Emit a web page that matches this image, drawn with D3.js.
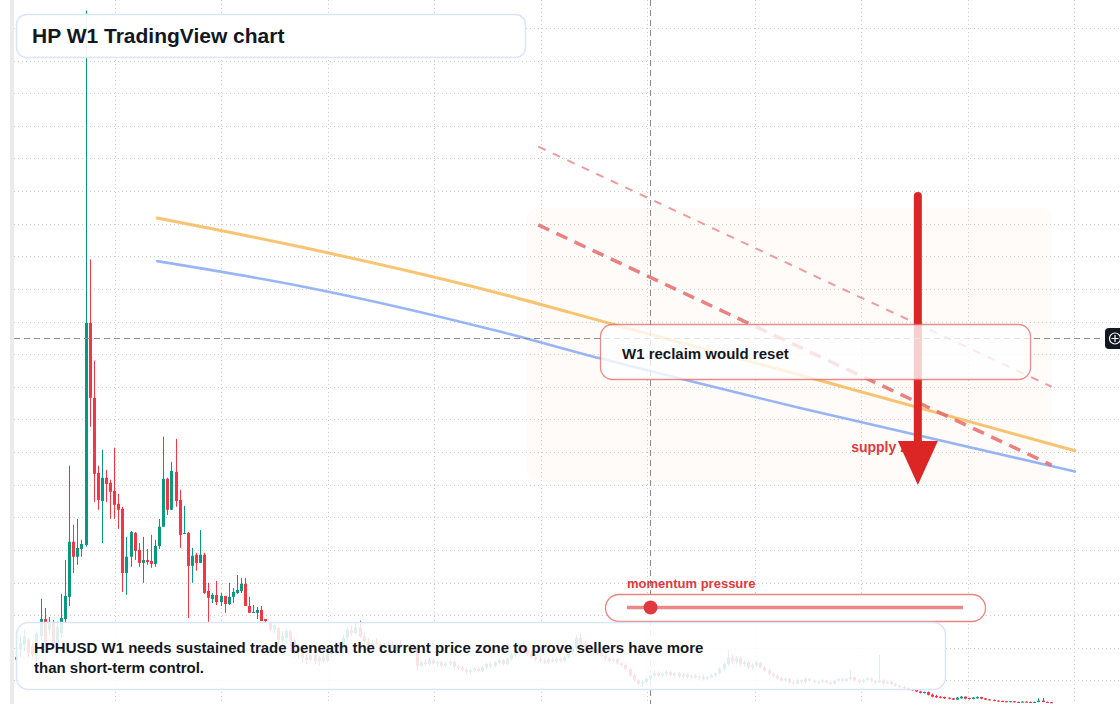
<!DOCTYPE html>
<html>
<head>
<meta charset="utf-8">
<script src="https://cdn.jsdelivr.net/npm/d3@7"></script>
<style>
  html, body { margin: 0; padding: 0; background: #fff; }
  svg { display: block; font-family: "Liberation Sans", Arial, Helvetica, sans-serif; }
</style>
</head>
<body>
<svg id="chart" width="1120" height="704"></svg>
<script>
// ---- data -------------------------------------------------------------
const symbol = 'HPHUSD';
const firstWeek = new Date(2020, 6, 16);

// weekly candles: [open, high, low, close]
const ohlc = [
  [1.72,1.78,1.60,1.63],[1.95,2.40,1.70,2.15],[2.10,2.55,1.90,2.35],[2.25,2.30,1.70,1.85],[2.05,2.15,1.70,1.80],
  [1.75,2.50,1.55,2.45],[2.36,3.50,2.24,2.88],[2.88,3.22,2.00,2.18],[2.55,2.94,2.40,2.72],[2.76,2.85,2.05,2.15],
  [2.15,2.80,2.00,2.65],[2.45,3.65,2.30,2.91],[2.88,4.69,2.79,3.59],[3.56,7.58,3.28,5.25],[5.25,5.77,4.29,4.79],
  [4.79,5.95,4.54,5.06],[5.03,5.31,4.79,5.18],[5.15,21.53,5.10,11.96],[11.96,13.90,8.77,9.66],[9.66,10.80,6.47,7.33],
  [7.36,7.58,6.23,6.53],[6.50,8.07,5.21,7.21],[7.21,7.45,6.47,7.02],[7.06,7.15,5.95,6.78],[6.81,8.13,5.95,6.38],
  [6.41,6.72,5.64,6.23],[6.26,6.32,3.71,4.29],[4.29,5.40,3.62,4.79],[4.79,5.58,4.48,5.55],[5.52,5.55,4.69,4.97],
  [5.00,5.21,4.48,4.60],[4.60,5.40,3.99,4.69],[4.69,5.03,4.54,4.63],[4.66,5.46,4.45,4.57],[4.57,5.31,4.48,5.12],
  [5.12,5.95,5.03,5.71],[5.71,8.47,5.71,7.18],[7.18,7.21,6.07,6.23],[6.23,7.70,6.23,7.42],[7.39,8.40,6.32,6.50],
  [6.53,6.84,5.06,5.46],[5.49,6.35,5.49,5.52],[5.52,5.55,2.91,4.51],[4.51,5.06,3.99,4.82],[4.85,4.91,4.36,4.60],
  [4.60,5.61,4.60,4.85],[4.85,4.91,3.65,3.68],[3.74,3.99,2.79,3.53],[3.50,3.68,3.37,3.62],[3.62,4.05,3.31,3.40],
  [3.40,3.68,3.28,3.59],[3.59,3.59,3.07,3.34],[3.34,3.99,3.31,3.56],[3.56,3.83,3.37,3.71],[3.68,4.23,3.65,3.77],
  [3.74,4.14,3.68,3.96],[3.96,4.14,3.28,3.28],[3.28,3.56,3.07,3.07],[3.07,3.31,3.07,3.10],[3.07,3.25,2.88,3.16],
  [3.16,3.28,2.82,2.82],[2.88,2.88,2.79,2.82],[2.76,2.79,2.50,2.55],[2.55,2.75,2.45,2.70],[2.61,2.65,2.00,2.24],
  [2.24,2.50,1.95,2.36],[2.30,2.60,2.10,2.52],[2.50,2.55,2.05,2.20],[2.20,2.30,1.70,1.85],[1.85,2.10,1.65,1.95],
  [1.95,2.05,1.55,1.70],[1.70,1.80,1.50,1.62],[1.62,1.85,1.55,1.78],[1.78,1.85,1.50,1.58],[1.58,1.75,1.45,1.70],
  [1.70,1.80,1.52,1.60],[1.60,1.90,1.55,1.82],[1.82,2.05,1.70,1.95],[1.95,2.20,1.85,2.10],[2.10,2.15,1.90,2.00],
  [2.00,2.40,1.95,2.30],[2.30,2.65,2.20,2.55],[2.55,2.70,2.35,2.45],[2.45,2.75,2.40,2.62],[2.62,2.83,2.30,2.35],
  [2.35,2.45,2.10,2.20],[2.20,2.30,1.95,2.05],[2.05,2.25,1.95,2.15],[2.15,2.30,2.00,2.10],[2.10,2.20,1.90,2.00],
  [2.00,2.15,1.90,2.08],[2.08,2.20,1.95,2.12],[2.12,2.18,1.95,2.00],[2.00,2.15,1.92,2.10],[2.10,2.22,1.98,2.05],
  [2.05,2.12,1.88,1.95],[1.95,2.10,1.90,2.05],[2.05,2.15,1.95,2.00],[2.00,2.10,1.30,1.45],[1.45,1.62,1.40,1.55],
  [1.55,1.65,1.45,1.50],[1.50,1.68,1.45,1.62],[1.62,1.66,1.48,1.52],[1.52,1.60,1.42,1.56],[1.56,1.60,1.40,1.45],
  [1.45,1.58,1.40,1.52],[1.52,1.62,1.45,1.57],[1.57,1.60,1.38,1.42],[1.42,1.48,1.32,1.38],[1.38,1.45,1.28,1.33],
  [1.33,1.40,1.22,1.27],[1.27,1.35,1.20,1.31],[1.31,1.40,1.25,1.36],[1.36,1.42,1.24,1.29],[1.29,1.45,1.25,1.40],
  [1.40,1.55,1.35,1.50],[1.50,1.58,1.38,1.44],[1.44,1.60,1.40,1.55],[1.55,1.68,1.48,1.62],[1.62,1.66,1.45,1.50],
  [1.50,1.72,1.46,1.66],[1.66,1.85,1.60,1.80],[1.80,1.98,1.72,1.92],[1.92,2.15,1.85,2.05],[2.05,2.20,1.90,1.95],
  [1.95,2.05,1.75,1.82],[1.82,1.90,1.65,1.72],[1.72,1.80,1.58,1.65],[1.65,1.75,1.55,1.60],[1.60,1.68,1.50,1.55],
  [1.55,1.70,1.50,1.64],[1.64,1.72,1.55,1.58],[1.58,1.70,1.52,1.66],[1.66,1.72,1.55,1.60],[1.60,1.78,1.56,1.72],
  [1.72,1.90,1.68,1.85],[1.85,2.05,1.80,1.98],[1.98,2.40,1.90,2.30],[2.30,2.45,2.05,2.12],[2.12,2.20,1.90,1.96],
  [1.96,2.05,1.82,1.88],[1.88,2.02,1.80,1.95],[1.95,2.00,1.78,1.84],[1.84,1.90,1.70,1.75],[1.75,1.82,1.62,1.68],
  [1.68,1.72,1.55,1.60],[1.60,1.70,1.54,1.65],[1.65,1.68,1.48,1.52],[1.52,1.58,1.42,1.47],[1.47,1.52,1.30,1.35],
  [1.35,1.40,1.10,1.15],[1.15,1.20,0.95,1.00],[1.00,1.05,0.85,0.90],[0.90,1.00,0.80,0.95],[0.95,1.10,0.88,1.05],
  [1.05,1.20,1.00,1.15],[1.15,1.30,1.08,1.22],[1.22,1.28,1.10,1.15],[1.15,1.25,1.08,1.20],[1.20,1.32,1.12,1.26],
  [1.26,1.30,1.12,1.16],[1.16,1.25,1.10,1.21],[1.21,1.26,1.08,1.12],[1.12,1.22,1.06,1.18],[1.18,1.22,1.05,1.10],
  [1.10,1.18,1.04,1.14],[1.14,1.20,1.06,1.09],[1.09,1.15,1.02,1.12],[1.12,1.16,1.00,1.05],[1.05,1.14,1.01,1.10],
  [1.10,1.20,1.06,1.16],[1.16,1.25,1.10,1.22],[1.22,1.40,1.18,1.35],[1.35,1.55,1.30,1.50],[1.50,1.93,1.45,1.70],
  [1.70,1.80,1.50,1.58],[1.58,1.75,1.50,1.68],[1.68,1.72,1.45,1.50],[1.50,1.62,1.42,1.55],[1.55,1.60,1.35,1.40],
  [1.40,1.52,1.32,1.46],[1.46,1.60,1.40,1.55],[1.55,1.58,1.35,1.40],[1.40,1.45,1.25,1.30],[1.30,1.36,1.15,1.20],
  [1.20,1.25,1.10,1.14],[1.14,1.18,1.02,1.06],[1.06,1.12,0.96,1.00],[1.00,1.10,0.95,1.05],[1.05,1.08,0.90,0.94],
  [0.94,1.00,0.85,0.90],[0.90,1.05,0.88,1.00],[1.00,1.04,0.90,0.95],[0.95,1.10,0.92,1.05],[1.05,1.08,0.95,0.99],
  [0.99,1.02,0.90,0.94],[0.94,1.00,0.88,0.96],[0.96,1.04,0.92,1.00],[1.00,1.02,0.90,0.94],[0.94,0.98,0.86,0.90],
  [0.90,1.02,0.88,0.99],[0.99,1.08,0.95,1.04],[1.04,1.08,0.94,0.98],[0.98,1.08,0.95,1.05],[1.05,1.32,1.00,1.10],
  [1.10,1.12,0.96,1.00],[1.00,1.04,0.90,0.95],[0.95,1.05,0.92,1.01],[1.01,1.10,0.98,1.06],[1.06,1.08,0.95,0.99],
  [0.99,1.02,0.90,0.94],[0.94,1.78,0.92,1.00],[1.00,1.04,0.86,0.90],[0.90,1.00,0.88,0.96],[0.96,0.98,0.86,0.89],
  [0.89,0.92,0.80,0.84],[0.84,0.88,0.76,0.80],[0.80,0.84,0.72,0.76],[0.76,0.80,0.70,0.73],[0.73,0.76,0.68,0.72],
  [0.72,0.74,0.64,0.66],[0.66,0.68,0.60,0.62],[0.62,0.66,0.60,0.64],[0.64,0.66,0.54,0.56],[0.56,0.60,0.48,0.50],
  [0.52,0.56,0.46,0.48],[0.50,0.52,0.45,0.47],[0.49,0.50,0.43,0.45],[0.47,0.48,0.42,0.44],[0.45,0.46,0.40,0.41],
  [0.41,0.49,0.40,0.47],[0.45,0.52,0.44,0.50],[0.50,0.51,0.42,0.44],[0.46,0.47,0.41,0.43],[0.43,0.49,0.42,0.47],
  [0.45,0.51,0.44,0.49],[0.49,0.50,0.42,0.44],[0.45,0.46,0.40,0.41],[0.42,0.43,0.38,0.39],[0.40,0.41,0.36,0.37],
  [0.38,0.39,0.35,0.36],[0.37,0.38,0.34,0.35],[0.36,0.37,0.33,0.34],[0.34,0.37,0.33,0.36],[0.36,0.37,0.32,0.33],
  [0.34,0.35,0.32,0.33],[0.33,0.36,0.32,0.35],[0.35,0.36,0.32,0.33],[0.34,0.35,0.31,0.32],[0.32,0.35,0.31,0.34],
  [0.34,0.45,0.33,0.38],[0.38,0.46,0.33,0.34],[0.34,0.35,0.31,0.32],[0.33,0.34,0.30,0.31]
];

// overlay curves: [week offset, price]
const orangeCurve = [[34.5, 15.17], [69.4, 14.29], [118.3, 12.86], [145.2, 11.94], [191.7, 10.36], [258.9, 8.04]];
const blueCurve   = [[34.5, 13.85], [69.4, 13.09], [118.3, 11.69], [142.8, 10.87], [191.7, 9.35], [258.9, 7.40]];

// projected resistance lines: [week offset, price]
const upperDashed = [[127.7, 17.36], [253.2, 10.00]];
const lowerDashed = [[127.7, 14.96], [253.2, 7.60]];

const supplyZone = { from: 124.9, to: 253.3, top: 15.48, bottom: 7.08 };
const supplyLabel = { week: 204.2, price: 8.0, text: 'supply zone' };
const arrowWeek = 220.5;
const arrowPrices = [15.85, 6.99];
const crosshair = { week: 155.0, price: 11.49 };
const momentumValue = 0.07;

const title = 'HP W1 TradingView chart';
const calloutText = 'W1 reclaim would reset';
const momentumLabel = 'momentum pressure';
const noteLines = [
  symbol + ' W1 needs sustained trade beneath the current price zone to prove sellers have more',
  'than short-term control.'
];

// ---- scales ----------------------------------------------------------
const W = 1120, H = 704;
const WEEK = 7 * 864e5;
const weekDate = w => new Date(+firstWeek + w * WEEK);

const x = d3.scaleTime()
  .domain([firstWeek, weekDate(ohlc.length - 1)])
  .range([16, 16 + (ohlc.length - 1) * 4.09]);
const y = d3.scaleLinear().domain([0, 20]).range([713, 60.5]);
const xw = w => x(weekDate(w));

const UP = '#089981', DOWN = '#f23645';
const svg = d3.select('#chart');

svg.append('rect').attr('width', W).attr('height', H).attr('fill', '#fff');

// left scale strip
svg.append('rect').attr('x', 10).attr('y', 0).attr('width', 4).attr('height', H).attr('fill', '#ebebeb');

// supply zone
svg.append('rect')
  .attr('x', xw(supplyZone.from)).attr('y', y(supplyZone.top))
  .attr('width', xw(supplyZone.to) - xw(supplyZone.from))
  .attr('height', y(supplyZone.bottom) - y(supplyZone.top))
  .attr('rx', 12)
  .attr('fill', '#fbe6d2').attr('fill-opacity', 0.15);

// grid
const grid = svg.append('g')
  .attr('stroke', '#cdcdcd').attr('stroke-width', 1).attr('stroke-dasharray', '1,3');
grid.selectAll('line.h')
  .data(d3.range(1, 22))
  .join('line')
  .attr('x1', 14).attr('x2', W)
  .attr('y1', d => Math.round(y(d)) + 0.5).attr('y2', d => Math.round(y(d)) + 0.5);
grid.selectAll('line.v')
  .data(d3.timeMonth.every(6).range(firstWeek, x.invert(W)))
  .join('line')
  .attr('x1', d => Math.round(x(d)) + 0.5).attr('x2', d => Math.round(x(d)) + 0.5)
  .attr('y1', 0).attr('y2', H);

// candles
const cx = i => Math.round(x(weekDate(i)));
const candle = svg.append('g').selectAll('g')
  .data(ohlc)
  .join('g');
candle.append('line')
  .attr('x1', (d, i) => cx(i) + 0.5).attr('x2', (d, i) => cx(i) + 0.5)
  .attr('y1', d => y(d[1])).attr('y2', d => y(d[2]))
  .attr('stroke', d => d[3] >= d[0] ? UP : DOWN).attr('stroke-width', 1);
candle.append('rect')
  .attr('x', (d, i) => cx(i) - 1).attr('width', 3)
  .attr('y', d => y(Math.max(d[0], d[3])))
  .attr('height', d => Math.max(1, Math.abs(y(d[0]) - y(d[3]))))
  .attr('fill', d => d[3] >= d[0] ? UP : DOWN);

// overlay curves
const curve = d3.line().x(d => xw(d[0])).y(d => y(d[1])).curve(d3.curveMonotoneX);
svg.append('path').datum(orangeCurve).attr('d', curve)
  .attr('fill', 'none').attr('stroke', '#f6b54f').attr('stroke-opacity', 0.8)
  .attr('stroke-width', 3).attr('stroke-linecap', 'round');
svg.append('path').datum(blueCurve).attr('d', curve)
  .attr('fill', 'none').attr('stroke', '#7ea2f2').attr('stroke-opacity', 0.8)
  .attr('stroke-width', 2.6).attr('stroke-linecap', 'round');

// dashed projections
const straight = d3.line().x(d => xw(d[0])).y(d => y(d[1]));
svg.append('path').datum(upperDashed).attr('d', straight)
  .attr('fill', 'none').attr('stroke', '#ee9c9c').attr('stroke-width', 2)
  .attr('stroke-dasharray', '8,8');
svg.append('path').datum(lowerDashed).attr('d', straight)
  .attr('fill', 'none').attr('stroke', '#e66a6a').attr('stroke-opacity', 0.85)
  .attr('stroke-width', 3.5).attr('stroke-dasharray', '12,8');

// supply label (sits under the arrow)
svg.append('text')
  .attr('x', xw(supplyLabel.week)).attr('y', y(supplyLabel.price))
  .attr('fill', '#e0393e').style('font-size', '14px').style('font-weight', 'bold')
  .text(supplyLabel.text);

// arrow
const ax = xw(arrowWeek);
const aTop = y(arrowPrices[0]), aTip = y(arrowPrices[1]);
svg.append('line')
  .attr('x1', ax).attr('x2', ax).attr('y1', aTop).attr('y2', aTip - 40)
  .attr('stroke', '#dc2626').attr('stroke-width', 8).attr('stroke-linecap', 'round');
svg.append('path')
  .attr('d', `M${ax - 20},${aTip - 44}L${ax + 20},${aTip - 44}L${ax},${aTip}Z`)
  .attr('fill', '#dc2626');

// crosshair
const chX = Math.round(xw(crosshair.week)) + 0.5;
const chY = Math.round(y(crosshair.price)) + 0.5;
svg.append('line')
  .attr('x1', chX).attr('x2', chX).attr('y1', 0).attr('y2', H)
  .attr('stroke', '#8c8c8c').attr('stroke-dasharray', '6,4');
svg.append('line')
  .attr('x1', 14).attr('x2', 1103).attr('y1', chY).attr('y2', chY)
  .attr('stroke', '#8c8c8c').attr('stroke-dasharray', '6,4');
const plus = svg.append('g');
plus.append('rect').attr('x', 1105).attr('y', chY - 10.5).attr('width', 22).attr('height', 21)
  .attr('rx', 4).attr('fill', '#131722');
plus.append('circle').attr('cx', 1115).attr('cy', chY).attr('r', 5.5)
  .attr('fill', 'none').attr('stroke', '#fff').attr('stroke-width', 1.2);
plus.append('path').attr('d', `M1111.5,${chY}H1118.5M1115,${chY - 3.5}V${chY + 3.5}`)
  .attr('stroke', '#fff').attr('stroke-width', 1.2);

// callout box
svg.append('rect')
  .attr('x', 600.5).attr('y', 324.5).attr('width', 430).attr('height', 55).attr('rx', 12)
  .attr('fill', '#fff').attr('fill-opacity', 0.78)
  .attr('stroke', '#e25c5c').attr('stroke-opacity', 0.7).attr('stroke-width', 1.3);
svg.append('text')
  .attr('x', 622).attr('y', 359)
  .attr('fill', '#131722').style('font-size', '15px').style('font-weight', 'bold')
  .text(calloutText);

// momentum meter
const track = [627, 963];
svg.append('text')
  .attr('x', track[0]).attr('y', 587.5)
  .attr('fill', '#e0393e').style('font-size', '13px').style('font-weight', 'bold')
  .text(momentumLabel);
svg.append('rect')
  .attr('x', 605.5).attr('y', 594.5).attr('width', 380).attr('height', 27).attr('rx', 13.5)
  .attr('fill', '#fff').attr('stroke', '#e25c5c').attr('stroke-opacity', 0.75).attr('stroke-width', 1.3);
svg.append('line')
  .attr('x1', track[0]).attr('x2', track[1]).attr('y1', 607.5).attr('y2', 607.5)
  .attr('stroke', '#e66a6a').attr('stroke-opacity', 0.8).attr('stroke-width', 3.5);
svg.append('circle')
  .attr('cx', track[0] + momentumValue * (track[1] - track[0])).attr('cy', 607.5).attr('r', 7)
  .attr('fill', '#e0393e');

// title box
svg.append('rect')
  .attr('x', 16.5).attr('y', 14.5).attr('width', 509).attr('height', 43).attr('rx', 10)
  .attr('fill', '#fff').attr('fill-opacity', 0.92)
  .attr('stroke', '#d9e5fb').attr('stroke-width', 1.5);
svg.append('text')
  .attr('x', 32).attr('y', 43)
  .attr('fill', '#131722').style('font-size', '21px').style('font-weight', 'bold')
  .text(title);

// note box
svg.append('rect')
  .attr('x', 16.5).attr('y', 622.5).attr('width', 929).attr('height', 67).attr('rx', 12)
  .attr('fill', '#fff').attr('fill-opacity', 0.86)
  .attr('stroke', '#d9e5fb').attr('stroke-width', 1.5);
svg.append('g').selectAll('text')
  .data(noteLines)
  .join('text')
  .attr('x', 34).attr('y', (d, i) => 653 + i * 20)
  .attr('fill', '#131722').style('font-size', '15px').style('font-weight', 'bold')
  .text(d => d);
</script>
</body>
</html>
